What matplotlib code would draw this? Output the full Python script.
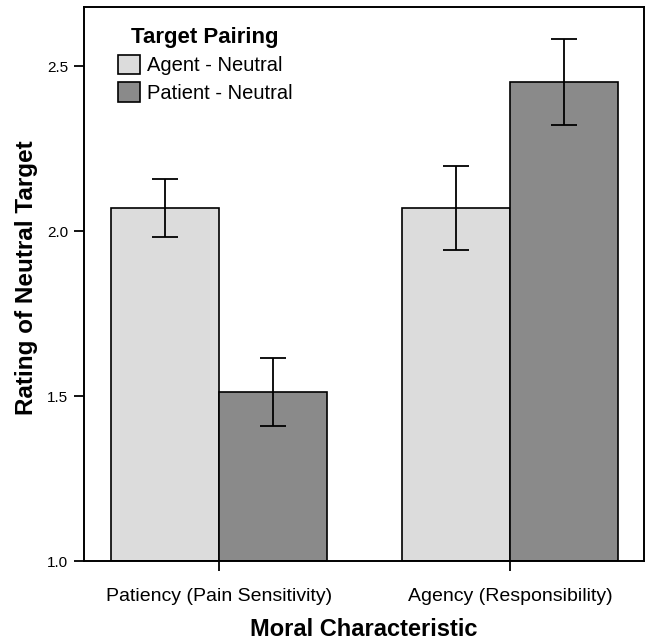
import matplotlib
matplotlib.use('Agg')
import matplotlib.pyplot as plt
import numpy as np

plt.rcParams['font.family'] = ['Liberation Sans', 'DejaVu Sans']

# values
categories = ['Patiency (Pain Sensitivity)', 'Agency (Responsibility)']
series = ['Agent - Neutral', 'Patient - Neutral']
agent_means = [2.07, 2.07]
agent_errs = [0.088, 0.127]
patient_means = [1.513, 2.453]
patient_errs = [0.104, 0.131]

colors = ['#dcdcdc', '#8a8a8a']

fig = plt.figure(figsize=(6.46, 6.42), dpi=100)
ax = fig.add_axes([0.130, 0.126, 0.867, 0.863])

x = np.arange(len(categories))
width = 0.37

ax.bar(x - width / 2, np.array(agent_means) - 1.0, width, bottom=1.0,
       color=colors[0], edgecolor='black', linewidth=1.2, label=series[0])
ax.bar(x + width / 2, np.array(patient_means) - 1.0, width, bottom=1.0,
       color=colors[1], edgecolor='black', linewidth=1.2, label=series[1])

ax.errorbar(x - width / 2, agent_means, yerr=agent_errs, fmt='none',
            ecolor='black', elinewidth=1.3, capsize=9.7, capthick=1.3)
ax.errorbar(x + width / 2, patient_means, yerr=patient_errs, fmt='none',
            ecolor='black', elinewidth=1.3, capsize=9.7, capthick=1.3)

ax.set_xlim(-0.464, 1.46)
ax.set_ylim(1.0, 2.68)
ax.set_yticks([1.0, 1.5, 2.0, 2.5])
ax.set_yticklabels(['1.0', '1.5', '2.0', '2.5'], fontsize=11)
ax.set_xticks(x)
ax.set_xticklabels(categories, fontsize=14)
ax.tick_params(axis='both', direction='out', length=7.5, width=1.3, pad=4)
ax.tick_params(axis='x', pad=12)

for s in ax.spines.values():
    s.set_linewidth(1.4)

ax.set_xlabel('Moral Characteristic', fontsize=17, fontweight='bold', labelpad=9)
ax.set_ylabel('Rating of Neutral Target', fontsize=17.5, fontweight='bold')
ax.yaxis.set_label_coords(-0.082, 0.512)

leg = ax.legend(loc='upper left', bbox_to_anchor=(0.028, 0.997), frameon=False,
                fontsize=14.5, title='Target Pairing',
                title_fontproperties={'weight': 'bold', 'size': 16},
                handlelength=1.1, handleheight=1.1, handletextpad=0.35,
                labelspacing=0.35)

plt.savefig('out.png', dpi=100)
